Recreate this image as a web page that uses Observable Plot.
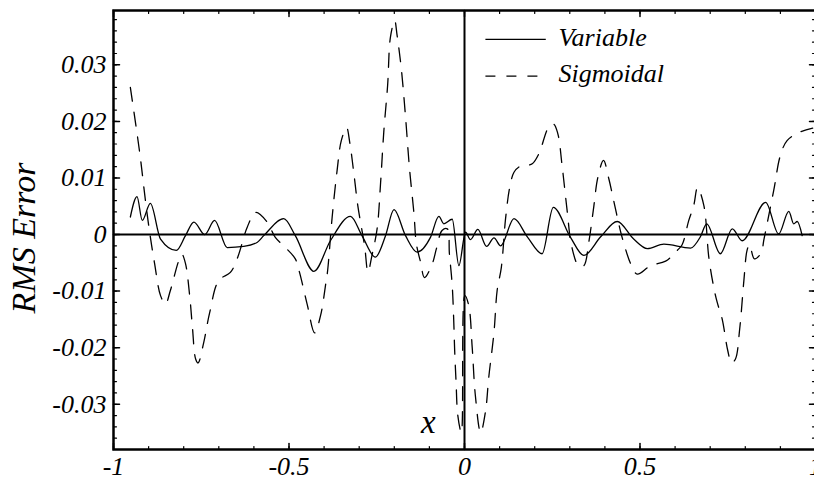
<!DOCTYPE html>
<html><head><meta charset="utf-8">
<script src="https://cdn.jsdelivr.net/npm/d3@7"></script>
<script src="https://cdn.jsdelivr.net/npm/@observablehq/plot@0.6"></script>
<style>
html,body{margin:0;padding:0;background:#fff;}
#chart svg{display:block;}
</style></head><body><div id="chart"></div>
<script>
// ---- data ----
const seriesNames = ["Variable", "Sigmoidal"];
const variablePoints = [[-0.952,0.0031],[-0.933,0.0067],[-0.918,0.0025],[-0.895,0.0055],[-0.866,-0.0008],[-0.821,-0.0028],[-0.795,-0.0002],[-0.771,0.0022],[-0.740,0.0000],[-0.712,0.0025],[-0.676,-0.0023],[-0.629,-0.0021],[-0.591,-0.0014],[-0.572,-0.0002],[-0.515,0.0028],[-0.482,-0.0002],[-0.429,-0.0065],[-0.382,-0.0011],[-0.325,0.0032],[-0.292,-0.0002],[-0.254,-0.0040],[-0.225,-0.0002],[-0.201,0.0044],[-0.168,-0.0002],[-0.135,-0.0031],[-0.097,-0.0005],[-0.073,0.0032],[-0.059,0.0019],[-0.035,0.0027],[-0.016,-0.0055],[0.003,0.0004],[0.017,-0.0009],[0.038,0.0009],[0.063,-0.0021],[0.084,-0.0006],[0.103,-0.0020],[0.141,0.0028],[0.179,-0.0004],[0.221,-0.0034],[0.253,0.0048],[0.302,-0.0005],[0.340,-0.0037],[0.388,-0.0004],[0.435,0.0023],[0.482,-0.0008],[0.521,-0.0025],[0.568,-0.0017],[0.644,-0.0024],[0.672,-0.0004],[0.690,0.0019],[0.729,-0.0034],[0.763,0.0010],[0.791,-0.0011],[0.858,0.0057],[0.895,0.0001],[0.924,0.0041],[0.938,0.0019],[0.948,0.0023],[0.962,-0.0002]];
const sigmoidalPoints = [[-0.952,0.0260],[-0.925,0.0143],[-0.909,0.0060],[-0.897,0.0004],[-0.883,-0.0051],[-0.866,-0.0108],[-0.852,-0.0123],[-0.838,-0.0099],[-0.814,-0.0046],[-0.805,-0.0035],[-0.795,-0.0051],[-0.783,-0.0108],[-0.775,-0.0165],[-0.766,-0.0220],[-0.759,-0.0227],[-0.743,-0.0191],[-0.726,-0.0138],[-0.700,-0.0081],[-0.667,-0.0067],[-0.646,-0.0040],[-0.619,0.0013],[-0.595,0.0039],[-0.562,0.0022],[-0.539,-0.0005],[-0.510,-0.0023],[-0.482,-0.0043],[-0.470,-0.0067],[-0.448,-0.0124],[-0.427,-0.0174],[-0.410,-0.0143],[-0.396,-0.0090],[-0.390,-0.0064],[-0.377,0.0031],[-0.363,0.0113],[-0.351,0.0166],[-0.336,0.0189],[-0.327,0.0163],[-0.315,0.0107],[-0.304,0.0051],[-0.292,0.0007],[-0.284,-0.0023],[-0.275,-0.0066],[-0.263,-0.0035],[-0.249,0.0010],[-0.239,0.0092],[-0.230,0.0181],[-0.219,0.0264],[-0.211,0.0349],[-0.199,0.0378],[-0.192,0.0352],[-0.180,0.0293],[-0.168,0.0208],[-0.157,0.0119],[-0.144,0.0037],[-0.137,-0.0017],[-0.125,-0.0049],[-0.114,-0.0076],[-0.092,-0.0052],[-0.080,-0.0025],[-0.064,0.0007],[-0.049,0.0010],[-0.043,-0.0034],[-0.035,-0.0090],[-0.031,-0.0146],[-0.028,-0.0205],[-0.024,-0.0261],[-0.019,-0.0320],[-0.009,-0.0350],[0.001,-0.0108],[0.012,-0.0125],[0.022,-0.0200],[0.031,-0.0285],[0.046,-0.0350],[0.060,-0.0312],[0.069,-0.0253],[0.084,-0.0173],[0.093,-0.0099],[0.105,-0.0058],[0.117,0.0028],[0.129,0.0084],[0.141,0.0110],[0.157,0.0120],[0.174,0.0122],[0.193,0.0125],[0.212,0.0143],[0.240,0.0190],[0.254,0.0195],[0.266,0.0178],[0.278,0.0122],[0.293,0.0039],[0.305,-0.0020],[0.325,-0.0055],[0.340,-0.0055],[0.354,-0.0014],[0.367,0.0043],[0.380,0.0101],[0.396,0.0131],[0.411,0.0099],[0.425,0.0060],[0.444,0.0007],[0.456,-0.0020],[0.473,-0.0051],[0.492,-0.0070],[0.530,-0.0055],[0.573,-0.0047],[0.606,-0.0028],[0.620,-0.0018],[0.639,0.0025],[0.653,0.0051],[0.664,0.0083],[0.682,0.0051],[0.696,-0.0040],[0.710,-0.0093],[0.720,-0.0120],[0.734,-0.0149],[0.750,-0.0205],[0.761,-0.0227],[0.772,-0.0220],[0.784,-0.0167],[0.796,-0.0081],[0.805,-0.0028],[0.812,-0.0018],[0.826,-0.0043],[0.845,-0.0033],[0.853,-0.0009],[0.881,0.0078],[0.900,0.0140],[0.919,0.0166],[0.955,0.0181],[0.992,0.0188]];

const xMajorTicks = [-1, -0.5, 0, 0.5, 1];
const xTickLabels = ["-1", "-0.5", "0", "0.5", "1"];
const yMajorTicks = [-0.03, -0.02, -0.01, 0, 0.01, 0.02, 0.03];
const yTickLabels = ["-0.03", "-0.02", "-0.01", "0", "0.01", "0.02", "0.03"];
const xMinorTicks = d3.range(-10, 11).map(i => i / 10);
const yMinorTicks = d3.range(-19, 20).map(i => i / 500);
const xLabel = "x";
const yLabel = "RMS Error";

// ---- layout (not data) ----
const xDomain = [-1, 1];
const yDomain = [-0.038, 0.0396];
const legendLayout = {x1: 0.061, x2: 0.233, textX: 0.268, y: [0.0345, 0.0280]};
const xLabelPos = {x: -0.103, y: -0.0333};
const serif = "'Liberation Serif', 'Times New Roman', serif";

const toRows = pts => pts.map(([x, y]) => ({x, y}));
const legendRows = seriesNames.map((name, i) => ({name, y: legendLayout.y[i]}));
const xLabelRows = xMajorTicks.map((v, i) => ({v, t: xTickLabels[i]}));
const yLabelRows = yMajorTicks.map((v, i) => ({v, t: yTickLabels[i]}));
const tickShape = {draw(ctx, l) { ctx.moveTo(0, 0); ctx.lineTo(0, -l); }};
const tick = (values, ch, frameAnchor, rotate, length, sw) =>
  Plot.vector(values, {[ch]: d => d, frameAnchor, length, rotate, anchor: "start", shape: tickShape, stroke: "black", strokeWidth: sw});

const chart = Plot.plot({
  width: 814,
  height: 483,
  marginLeft: 113,
  marginRight: -1,
  marginTop: 10,
  marginBottom: 34,
  x: {domain: xDomain, axis: null},
  y: {domain: yDomain, axis: null},
  style: {fontFamily: serif, fontStyle: "italic", fontSize: "26px", background: "white", color: "black"},
  marks: [
    Plot.ruleY([0], {stroke: "black", strokeWidth: 2}),
    Plot.ruleX([0], {stroke: "black", strokeWidth: 2}),
    Plot.line(toRows(variablePoints), {x: "x", y: "y", stroke: "black", strokeWidth: 1.3, curve: "monotone-x"}),
    Plot.line(toRows(sigmoidalPoints), {x: "x", y: "y", stroke: "black", strokeWidth: 1.3, curve: "catmull-rom", strokeDasharray: "14,11"}),
    Plot.frame({stroke: "black", strokeWidth: 2.5}),
    tick(xMinorTicks, "x", "bottom", 0, 3, 1.2),
    tick(xMajorTicks, "x", "bottom", 0, 6, 1.5),
    tick(xMinorTicks, "x", "top", 180, 3, 1.2),
    tick(xMajorTicks, "x", "top", 180, 6, 1.5),
    tick(yMinorTicks, "y", "left", 90, 3, 1.2),
    tick(yMajorTicks, "y", "left", 90, 6, 1.5),
    tick(yMinorTicks, "y", "right", -90, 3, 1.2),
    tick(yMajorTicks, "y", "right", -90, 6, 1.5),
    // tick labels
    Plot.text(xLabelRows, {x: "v", text: "t", frameAnchor: "bottom", textAnchor: "middle", lineAnchor: "top", dy: 7, fontSize: 26}),
    Plot.text(yLabelRows, {y: "v", text: "t", frameAnchor: "left", textAnchor: "end", lineAnchor: "middle", dx: -7, fontSize: 26}),
    // axis labels
    Plot.text([xLabel], {x: () => xLabelPos.x, y: () => xLabelPos.y, text: d => d, fontSize: 33}),
    Plot.text([yLabel], {frameAnchor: "left", textAnchor: "middle", lineAnchor: "middle", dx: -89, dy: 8, rotate: -90, text: d => d, fontSize: 34}),
    // legend
    Plot.ruleY(legendRows.slice(0, 1), {y: "y", x1: () => legendLayout.x1, x2: () => legendLayout.x2, stroke: "black", strokeWidth: 1.3}),
    Plot.ruleY(legendRows.slice(1, 2), {y: "y", x1: () => legendLayout.x1, x2: () => legendLayout.x2, stroke: "black", strokeWidth: 1.3, strokeDasharray: "10,11"}),
    Plot.text(legendRows, {x: () => legendLayout.textX, y: "y", dy: -2, text: "name", textAnchor: "start", fontSize: 26})
  ]
});
document.getElementById("chart").appendChild(chart);
</script>
</body></html>
